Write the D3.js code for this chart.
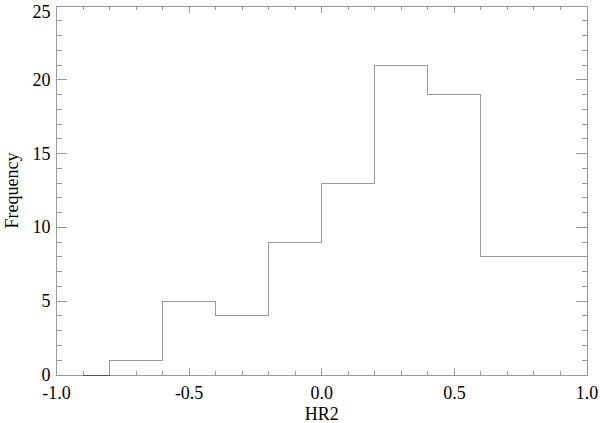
<!DOCTYPE html>
<html><head><meta charset="utf-8">
<script src="https://cdn.jsdelivr.net/npm/d3@7"></script>
<style>body{margin:0;background:#fff}svg{display:block}text{font-family:"Liberation Serif","Times New Roman",Times,serif;fill:#000}</style>
</head><body>
<script>
const binCenters = [-0.9, -0.7, -0.5, -0.3, -0.1, 0.1, 0.3, 0.5, 0.7, 0.9];
const frequency  = [0, 1, 5, 4, 9, 13, 21, 19, 8, 8];
const xTicks = [-1.0, -0.5, 0.0, 0.5, 1.0];
const yTicks = [0, 5, 10, 15, 20, 25];

const W = 600, H = 423;
const m = {l:56.5, r:13, t:6, b:48};
const svg = d3.select("body").append("svg").attr("width",W).attr("height",H);
const x = d3.scaleLinear().domain([-1,1]).range([m.l, W-m.r]);
const y = d3.scaleLinear().domain([0,25]).range([H-m.b, m.t]);
const axCol = "#999";
const pw = x(1)-x(-1), ph = y(0)-y(25);
const xMaj = 0.02*ph, yMaj = 0.02*pw;
const fs = 18;

const xMinor = d3.range(-1, 1.0001, 0.1).map(v=>+v.toFixed(2));
const yMinor = d3.range(0, 25.001, 1);
const g = svg.append("g").attr("stroke",axCol).attr("stroke-width",1).attr("shape-rendering","crispEdges");
xMinor.forEach(v=>{
  const major = xTicks.some(t=>Math.abs(t-v)<1e-6);
  const len = major ? xMaj : xMaj/2;
  g.append("line").attr("x1",x(v)).attr("x2",x(v)).attr("y1",y(0)).attr("y2",y(0)-len);
  g.append("line").attr("x1",x(v)).attr("x2",x(v)).attr("y1",y(25)).attr("y2",y(25)+len);
});
yMinor.forEach(v=>{
  const major = yTicks.includes(v);
  const len = major ? yMaj : yMaj/2;
  g.append("line").attr("y1",y(v)).attr("y2",y(v)).attr("x1",x(-1)).attr("x2",x(-1)+len);
  g.append("line").attr("y1",y(v)).attr("y2",y(v)).attr("x1",x(1)).attr("x2",x(1)-len);
});
g.append("rect").attr("x",x(-1)).attr("y",y(25)).attr("width",pw).attr("height",ph).attr("fill","none");

svg.append("g").selectAll("text").data(xTicks).join("text")
  .attr("x",d=>x(d)).attr("y",y(0)+24).attr("text-anchor","middle").attr("font-size",fs)
  .text(d=>d.toFixed(1));
svg.append("g").selectAll("text").data(yTicks).join("text")
  .attr("x",x(-1)-6).attr("y",d=>Math.max(y(d)+6, 18)).attr("text-anchor","end").attr("font-size",fs)
  .text(d=>d);
svg.append("text").attr("x",(x(-1)+x(1))/2).attr("y",H-3).attr("text-anchor","middle").attr("font-size",fs).text("HR2");
svg.append("text").attr("transform",`translate(18,${(y(0)+y(25))/2}) rotate(-90)`).attr("text-anchor","middle").attr("font-size",fs).text("Frequency");

svg.append("clipPath").attr("id","c").append("rect").attr("x",x(-1)).attr("y",y(25)-1).attr("width",pw).attr("height",ph+2);
const pts = binCenters.map((c,i)=>[c,frequency[i]]);
pts.push([x.domain()[1]+0.1, frequency[frequency.length-1]]);
const line = d3.line().x(d=>x(d[0])).y(d=>y(d[1])).curve(d3.curveStep);
svg.append("path").attr("d",line(pts)).attr("fill","none").attr("stroke","#999").attr("stroke-width",1)
  .attr("shape-rendering","crispEdges").attr("clip-path","url(#c)");
svg.append("path").attr("d",d3.line().x(d=>x(d[0])).y(d=>y(d[1]))([[binCenters[0],0],[(binCenters[0]+binCenters[1])/2,0]]))
  .attr("stroke","#555").attr("shape-rendering","crispEdges").attr("fill","none");
</script>
</body></html>
